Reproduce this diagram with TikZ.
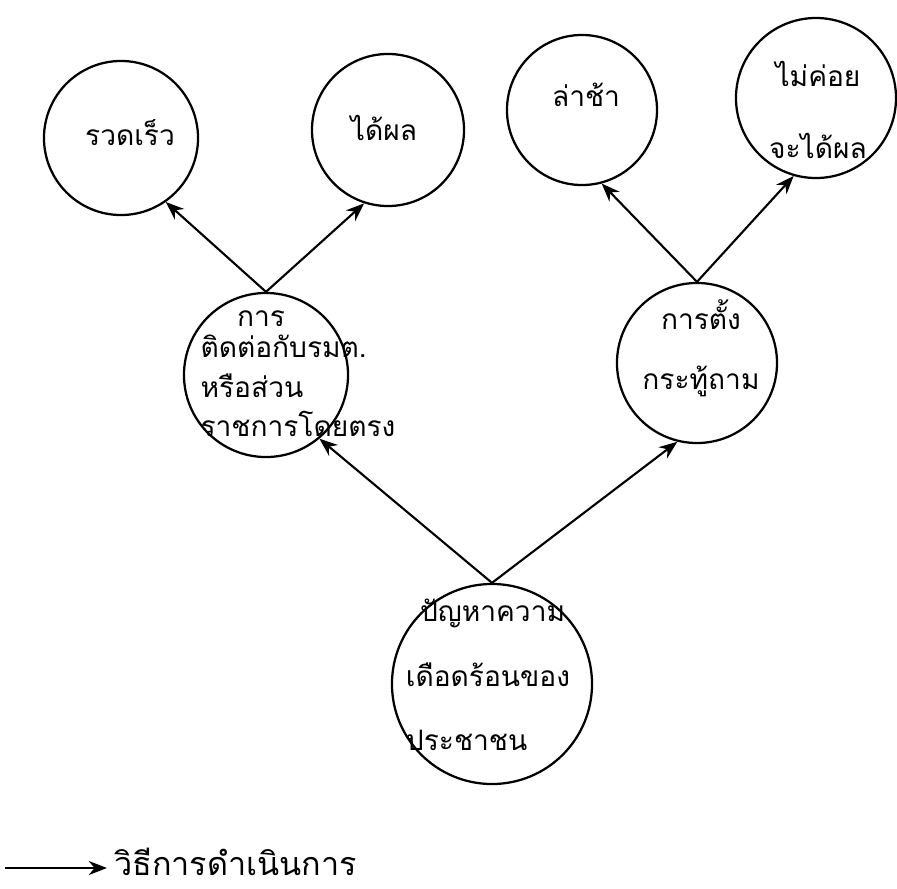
\documentclass[tikz,border=0pt]{standalone}
\usepackage{fontspec}
\newfontfamily\thaifont[Script=Thai]{Loma}
\usetikzlibrary{arrows.meta,positioning}

\begin{document}
\begin{tikzpicture}[x=0.025cm,y=-0.025cm,
    bubble/.style={draw,circle,line width=1.6pt,inner sep=0pt},
    word/.style={font=\thaifont\fontsize{20}{28}\selectfont,inner sep=0pt},
    way/.style={-{Stealth[length=13pt,width=10pt]},line width=1.5pt}]
    \useasboundingbox (0,0) rectangle (897,889);
    % circles
    \node[bubble,minimum size=3.85cm] (fast) at (121,138) {};
    \node[bubble,minimum size=3.8cm] (effective) at (388,130) {};
    \node[bubble,minimum size=3.75cm] (slow) at (582,110) {};
    \node[bubble,minimum size=4cm] (hardly) at (816,98) {};
    \node[bubble,minimum size=4.1cm] (contact) at (266,375) {};
    \node[bubble,minimum size=4cm] (question) at (697,363) {};
    \node[bubble,minimum size=5cm] (trouble) at (492,684) {};
    % texts
    \node[word] (fastT) at (130,133) {รวดเร็ว};
    \node[word] (effectiveT) at (384,128) {ได้ผล};
    \node[word] (slowT) at (586,95) {ล่าช้า};
    \node[word,align=center,font=\thaifont\fontsize{20}{51}\selectfont] (hardlyT) at (818,110) {ไม่ค่อย\\จะได้ผล};
    \node[word,align=left] (contactT) at (298,374) {\hspace{1.3em}การ\\[-6pt]ติดต่อกับรมต.\\หรือส่วน\\ราชการโดยตรง};
    \node[word,align=center,font=\thaifont\fontsize{20}{43}\selectfont] (questionT) at (701,348) {การตั้ง\\กระทู้ถาม};
    \node[word,align=left,font=\thaifont\fontsize{20}{46}\selectfont] (troubleT) at (488,675) {\hspace{0.5em}ปัญหาความ\\เดือดร้อนของ\\ประชาชน};
    % arrows
    \draw[way] (trouble.north) -- (contact.310);
    \draw[way] (trouble.north) -- (question.256);
    \draw[way] (contact.north) -- (fast.305);
    \draw[way] (contact.north) -- (effective.252);
    \draw[way] (question.north) -- (slow.285);
    \draw[way] (question.north) -- (hardly.254);
    % legend
    \coordinate (legA) at (5,868);
    \node[word,anchor=west,font=\thaifont\fontsize{23}{28}\selectfont] (legT) at (114,862) {วิธีการดำเนินการ};
    \draw[way] (legA) -- ([xshift=-5pt]legA -| legT.west);
\end{tikzpicture}
\end{document}
